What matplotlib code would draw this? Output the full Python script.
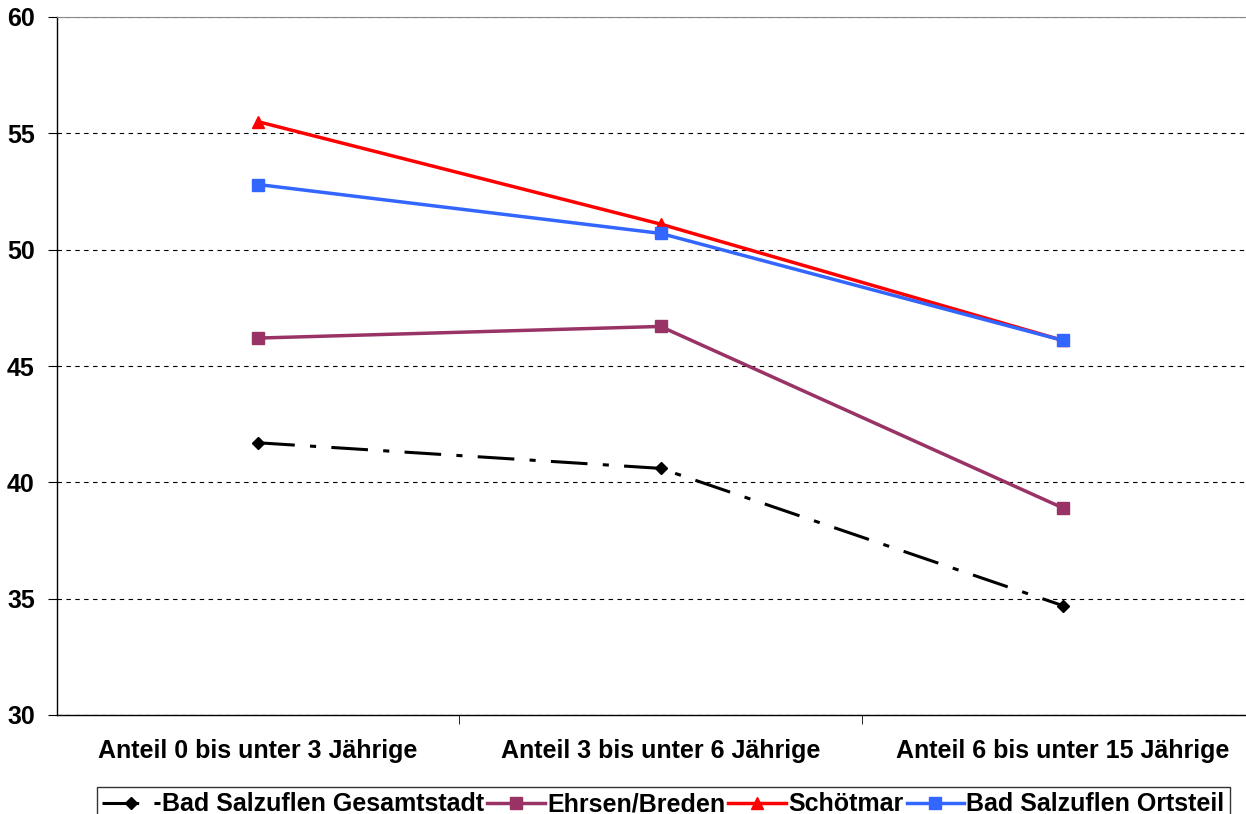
import numpy as np
import matplotlib.pyplot as plt
from matplotlib.ticker import MultipleLocator, FixedLocator

plt.rcParams['font.family'] = ['Liberation Sans', 'DejaVu Sans']

kategorien = ['Anteil 0 bis unter 3 Jährige', 'Anteil 3 bis unter 6 Jährige',
              'Anteil 6 bis unter 15 Jährige']
gesamtstadt = [41.7, 40.6, 34.7]
ehrsen = [46.2, 46.7, 38.9]
schoetmar = [55.5, 51.1, 46.1]
ortsteil = [52.8, 50.7, 46.1]

fig = plt.figure(figsize=(12.46, 8.14), dpi=100)
# Plotbereich rechts abgeschnitten wie im Original
ax = fig.add_axes([57 / 1246, 1 - 715 / 814, (1264 - 57) / 1246, (715 - 17) / 814])

x = np.arange(len(kategorien))
ax.plot(x, gesamtstadt, color='black', lw=2.2, dashes=[12, 5, 2, 5], marker='D', ms=6,
        label='Bad Salzuflen Gesamtstadt')
ax.plot(x, ehrsen, color='#993366', lw=2.5, marker='s', ms=8, label='Ehrsen/Breden')
ax.plot(x, schoetmar, color='#ff0000', lw=2.5, marker='^', ms=8, label='Schötmar')
ax.plot(x, ortsteil, color='#3366ff', lw=2.5, marker='s', ms=8, label='Bad Salzuflen Ortsteil')

ax.set_xlim(-0.5, 2.5)
ax.set_ylim(30, 60)
ax.yaxis.set_major_locator(MultipleLocator(5))
ax.set_xticks(x)
ax.set_xticklabels(kategorien, fontsize=18, fontweight='bold')
ax.tick_params(axis='x', length=0, pad=17.5)
ax.xaxis.set_minor_locator(FixedLocator([0.5, 1.5]))
ax.tick_params(axis='x', which='minor', length=6.5, direction='out')
ax.tick_params(axis='y', length=6.5, direction='out', labelsize=18, pad=9.5)
for lab in ax.get_yticklabels():
    lab.set_fontweight('bold')

ax.grid(axis='y', color='black', linestyle=(0, (4, 4)), lw=0.8)
ax.spines['top'].set_color('#888888')
ax.spines['right'].set_visible(False)
ax.spines['left'].set_linewidth(1)
ax.spines['bottom'].set_linewidth(1)

leg = fig.legend(loc='lower left', bbox_to_anchor=(97 / 1246, -0.009), ncol=4,
                 prop={'size': 18, 'weight': 'bold'}, frameon=True, fancybox=False,
                 edgecolor='black', handlelength=2.3, handletextpad=0.1, columnspacing=0.12,
                 borderpad=0.2, borderaxespad=0)
leg.get_frame().set_linewidth(1)

fig.savefig('out.png', dpi=100)
